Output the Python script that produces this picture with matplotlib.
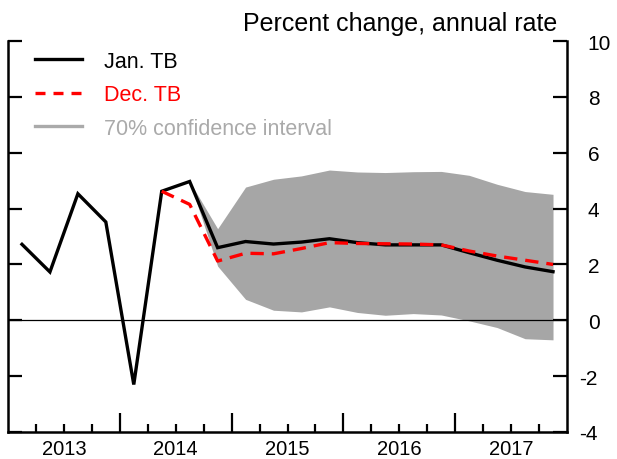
import numpy as np
import matplotlib
matplotlib.use("Agg")
import matplotlib.pyplot as plt
import matplotlib.transforms as mtransforms
from matplotlib.lines import Line2D

plt.rcParams['font.family'] = ['Liberation Sans', 'DejaVu Sans']

# quarterly data, 2013Q1 .. 2017Q4
years    = [2013, 2014, 2015, 2016, 2017]
quarters = [(y, q) for y in years for q in (1, 2, 3, 4)]

jan_tb = [2.72, 1.73, 4.53, 3.52, -2.3, 4.62, 4.97, 2.60,
          2.82, 2.73, 2.80, 2.92, 2.78, 2.70, 2.70, 2.70,
          2.42, 2.15, 1.91, 1.74]

# December TB starts at 2014Q2
dec_tb = [4.62, 4.15, 2.12, 2.40, 2.38, 2.57, 2.78, 2.75, 2.74,
          2.73, 2.70, 2.48, 2.30, 2.15, 2.00]

# 70% confidence band, starts at 2014Q3
ci_upper = [4.97, 3.28, 4.77, 5.05, 5.17, 5.38, 5.31, 5.29, 5.32,
            5.33, 5.19, 4.87, 4.61, 4.51]
ci_lower = [4.97, 1.94, 0.75, 0.36, 0.30, 0.48, 0.28, 0.18, 0.24,
            0.19, -0.02, -0.26, -0.66, -0.70]

y_ticks = [-4, -2, 0, 2, 4, 6, 8, 10]

# x position = middle of each quarter
x = np.array([y + (q - 0.5) / 4 for y, q in quarters])
x_dec = x[len(x) - len(dec_tb):]
x_ci = x[len(x) - len(ci_upper):]

fig = plt.figure(figsize=(6.17, 4.60), dpi=100)
ax = fig.add_axes([8 / 617, 27 / 460, 559 / 617, 391 / 460])

ax.fill_between(x_ci, ci_lower, ci_upper, color='#a6a6a6', lw=0, zorder=1)
ax.axhline(0, color='black', lw=0.9, zorder=2)
ax.plot(x, jan_tb, color='black', lw=2.4, solid_joinstyle='miter', zorder=3)
ax.plot(x_dec, dec_tb, color='red', lw=2.4, dashes=(4, 2.4), zorder=4)

ax.set_xlim(2013, 2018)
ax.set_ylim(-4, 10)

ax.spines['top'].set_visible(False)
for side in ('left', 'right', 'bottom'):
    ax.spines[side].set_linewidth(1.8)

# y axis: labels on right, ticks inward on both sides
ax.yaxis.tick_right()
ax.tick_params(axis='y', which='major', direction='in', left=True, right=True,
               labelleft=False, labelright=True, length=10, width=1.6,
               labelsize=15, pad=15)
ax.set_yticks(y_ticks)
ax.set_yticklabels([str(v) for v in y_ticks])
ax.set_yticks([10], minor=True)
ax.tick_params(axis='y', which='minor', direction='in', left=True, right=True,
               length=17, width=1.6)
# hang the minus sign out to the left
for lab, v in zip(ax.get_yticklabels(), y_ticks):
    if v < 0:
        lab.set_transform(lab.get_transform() +
                          mtransforms.ScaledTranslation(-6 / 72, 0, fig.dpi_scale_trans))

# x axis: year boundaries long, quarters short, labels centred on years
ax.set_xticks(years[1:])
ax.set_xticks([y + q / 4 for y in years for q in (1, 2, 3)], minor=True)
ax.tick_params(axis='x', which='major', direction='in', length=14, width=1.6,
               labelbottom=False)
ax.tick_params(axis='x', which='minor', direction='in', length=6, width=1.6)
for y in years:
    ax.text(y + 0.5, -0.055, str(y), transform=ax.get_xaxis_transform(),
            ha='center', va='baseline', fontsize=14.5)

ax.text(0.982, 1.028, 'Percent change, annual rate', transform=ax.transAxes,
        ha='right', va='baseline', fontsize=18)

handles = [Line2D([], [], color='black', lw=2.4),
           Line2D([], [], color='red', lw=2.4, dashes=(3, 2.4)),
           Line2D([], [], color='#aaaaaa', lw=2.4)]
labels = ['Jan. TB', 'Dec. TB', '70% confidence interval']
ax.legend(handles, labels, loc='upper left', bbox_to_anchor=(0.048, 0.975),
          frameon=False, fontsize=15.5, handlelength=2.2, handletextpad=1.0,
          labelspacing=0.58, borderpad=0, borderaxespad=0,
          labelcolor=['black', 'red', '#aaaaaa'])

fig.savefig('out.png', dpi=100)
